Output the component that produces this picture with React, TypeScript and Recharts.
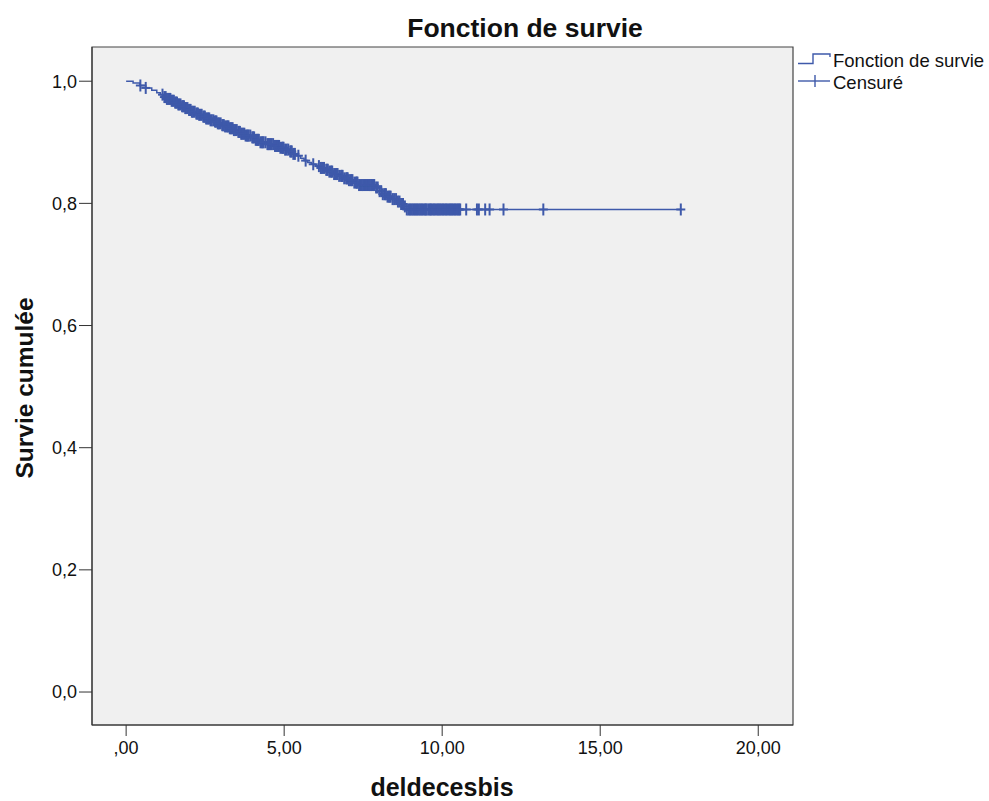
import React from "react";
import {
  ComposedChart,
  Line,
  Scatter,
  XAxis,
  YAxis,
  ReferenceArea,
} from "recharts";

// Kaplan-Meier step curve: event times and survival after each event
const eventTimes = [
  0.0, 0.22, 0.44, 0.62, 0.81, 0.97, 1.08, 1.18, 1.29, 1.41, 1.52, 1.63, 1.74,
  1.86, 1.95, 2.07, 2.19, 2.3, 2.41, 2.53, 2.66, 2.78, 2.9, 3.01, 3.13, 3.27,
  3.4, 3.52, 3.63, 3.78, 3.95, 4.1, 4.24, 4.42, 4.66, 4.88, 5.02, 5.15, 5.28,
  5.4, 5.52, 5.63, 5.74, 5.86, 5.99, 6.13, 6.27, 6.42, 6.58, 6.74, 6.9, 7.05,
  7.21, 7.36, 7.9, 8.02, 8.12, 8.26, 8.42, 8.55, 8.66, 8.77, 8.88,
];
const survivalAfter = [
  1.0, 0.997, 0.993, 0.989, 0.985, 0.981, 0.978, 0.974, 0.971, 0.968, 0.965,
  0.962, 0.959, 0.956, 0.953, 0.95, 0.947, 0.945, 0.942, 0.939, 0.936, 0.934,
  0.931, 0.928, 0.926, 0.923, 0.92, 0.917, 0.914, 0.911, 0.908, 0.904, 0.9,
  0.897, 0.894, 0.891, 0.888, 0.885, 0.881, 0.878, 0.874, 0.87, 0.867, 0.864,
  0.861, 0.858, 0.855, 0.852, 0.848, 0.845, 0.841, 0.838, 0.834, 0.83, 0.826,
  0.82, 0.815, 0.811, 0.807, 0.803, 0.799, 0.795, 0.79,
];
const lastFollowUp = 17.55;

// Censored observations (times)
const censorTimes = [
  0.45, 0.62, 1.15, 1.21, 1.25, 1.29, 1.33, 1.37, 1.4, 1.44, 1.47, 1.51, 1.55,
  1.58, 1.61, 1.65, 1.68, 1.72, 1.77, 1.8, 1.83, 1.87, 1.9, 1.94, 1.99, 2.02,
  2.04, 2.08, 2.12, 2.17, 2.22, 2.25, 2.27, 2.31, 2.35, 2.39, 2.44, 2.47, 2.49,
  2.53, 2.57, 2.6, 2.63, 2.67, 2.71, 2.76, 2.81, 2.84, 2.86, 2.9, 2.94, 2.99,
  3.04, 3.07, 3.09, 3.13, 3.18, 3.21, 3.24, 3.28, 3.31, 3.34, 3.37, 3.41, 3.45,
  3.5, 3.55, 3.58, 3.6, 3.64, 3.67, 3.71, 3.74, 3.78, 3.82, 3.85, 3.88, 3.93,
  3.99, 4.02, 4.05, 4.1, 4.14, 4.17, 4.2, 4.25, 4.29, 4.32, 4.35, 4.41, 4.47,
  4.5, 4.53, 4.57, 4.6, 4.65, 4.71, 4.75, 4.78, 4.81, 4.84, 4.88, 4.93, 4.96,
  4.98, 5.03, 5.08, 5.13, 5.19, 5.22, 5.24, 5.29, 5.34, 5.45, 5.68, 5.92, 6.1,
  6.16, 6.2, 6.26, 6.33, 6.36, 6.38, 6.43, 6.47, 6.5, 6.52, 6.58, 6.63, 6.66,
  6.69, 6.74, 6.8, 6.83, 6.85, 6.9, 6.96, 6.99, 7.01, 7.05, 7.1, 7.13, 7.16,
  7.22, 7.27, 7.3, 7.32, 7.37, 7.42, 7.46, 7.5, 7.54, 7.57, 7.61, 7.64, 7.68,
  7.71, 7.75, 7.78, 7.82, 7.85, 7.91, 7.96, 8.02, 8.07, 8.12, 8.17, 8.2, 8.22,
  8.27, 8.31, 8.34, 8.37, 8.43, 8.48, 8.54, 8.6, 8.65, 8.7, 8.76, 8.82, 8.88,
  8.93, 8.97, 9.0, 9.04, 9.08, 9.12, 9.15, 9.19, 9.22, 9.26, 9.3, 9.34, 9.37,
  9.41, 9.45, 9.48, 9.51, 9.56, 9.6, 9.63, 9.66, 9.7, 9.74, 9.78, 9.82, 9.86,
  9.89, 9.93, 9.97, 10.01, 10.04, 10.08, 10.12, 10.16, 10.2, 10.24, 10.27,
  10.31, 10.35, 10.39, 10.42, 10.46, 10.5, 10.54, 10.57, 10.76, 11.1, 11.16,
  11.36, 11.5, 11.94, 13.2, 17.55,
];

const xTicks = [0, 5, 10, 15, 20];
const yTicks = [0, 0.2, 0.4, 0.6, 0.8, 1.0];

const BLUE = "#3e59aa";
const FONT = "'Liberation Sans', Arial, sans-serif";

const curveData = eventTimes
  .map((t, i) => ({ t, s: survivalAfter[i] }))
  .concat([{ t: lastFollowUp, s: survivalAfter[survivalAfter.length - 1] }]);

const survivalAt = (t: number) => {
  let s = 1;
  for (let i = 0; i < eventTimes.length; i++) {
    if (eventTimes[i] <= t) s = survivalAfter[i];
  }
  return s;
};
const censorData = censorTimes.map((t) => ({ t, s: survivalAt(t) }));

const fmtX = (v: number) => (v === 0 ? ",00" : v.toFixed(2).replace(".", ","));
const fmtY = (v: number) => v.toFixed(1).replace(".", ",");

const Cross = (props: any) => {
  const { cx, cy } = props;
  if (cx == null || cy == null) return null;
  return (
    <g stroke={BLUE} strokeWidth={2}>
      <line x1={cx - 4.5} y1={cy} x2={cx + 4.5} y2={cy} />
      <line x1={cx} y1={cy - 6} x2={cx} y2={cy + 6} />
    </g>
  );
};

export default function App() {
  return (
    <div style={{ position: "absolute", left: 0, top: 0, width: 989, height: 801, background: "#fff" }}>
      <ComposedChart
        width={989}
        height={801}
        margin={{ top: 47, right: 196, bottom: 0, left: 0 }}
      >
        <XAxis
          type="number"
          dataKey="t"
          domain={[-1.08, 21.1]}
          allowDataOverflow
          ticks={xTicks}
          tickFormatter={fmtX}
          height={76}
          tickSize={11}
          tickMargin={5}
          stroke="#333"
          tick={{ fill: "#111", fontSize: 18, fontFamily: FONT }}
        />
        <YAxis
          type="number"
          dataKey="s"
          domain={[-0.054, 1.056]}
          allowDataOverflow
          ticks={yTicks}
          tickFormatter={fmtY}
          width={92}
          tickSize={13}
          tickMargin={2}
          stroke="#333"
          tick={{ fill: "#111", fontSize: 18, fontFamily: FONT }}
        />
        <ReferenceArea
          x1={-1.08}
          x2={21.1}
          y1={-0.054}
          y2={1.056}
          fill="#f0f0f0"
          fillOpacity={1}
          stroke="#444"
          strokeWidth={1.2}
        />
        <Line
          data={curveData}
          dataKey="s"
          type="stepAfter"
          stroke={BLUE}
          strokeWidth={1.5}
          dot={false}
          activeDot={false}
          isAnimationActive={false}
        />
        <Scatter
          data={censorData}
          dataKey="s"
          shape={<Cross />}
          isAnimationActive={false}
        />
      </ComposedChart>
      <svg
        width={989}
        height={801}
        style={{ position: "absolute", left: 0, top: 0, pointerEvents: "none" }}
      >
        <text x={525} y={37} textAnchor="middle" fontFamily={FONT} fontWeight="bold" fontSize={26.5} fill="#111">
          Fonction de survie
        </text>
        <text x={442} y={796} textAnchor="middle" fontFamily={FONT} fontWeight="bold" fontSize={25} fill="#111">
          deldecesbis
        </text>
        <text
          x={0}
          y={0}
          transform="translate(33 388) rotate(-90)"
          textAnchor="middle"
          fontFamily={FONT}
          fontWeight="bold"
          fontSize={24.5}
          fill="#111"
        >
          Survie cumulée
        </text>
        <path d="M798 63.5 H813 V54 H830 V57" fill="none" stroke={BLUE} strokeWidth={1.4} />
        <text x={833} y={67} fontFamily={FONT} fontSize={18.5} fill="#111">
          Fonction de survie
        </text>
        <line x1={798} y1={81} x2={830} y2={81} stroke={BLUE} strokeWidth={1.4} />
        <line x1={815} y1={75} x2={815} y2={87} stroke={BLUE} strokeWidth={1.4} />
        <text x={833} y={89} fontFamily={FONT} fontSize={18.5} fill="#111">
          Censuré
        </text>
      </svg>
    </div>
  );
}
